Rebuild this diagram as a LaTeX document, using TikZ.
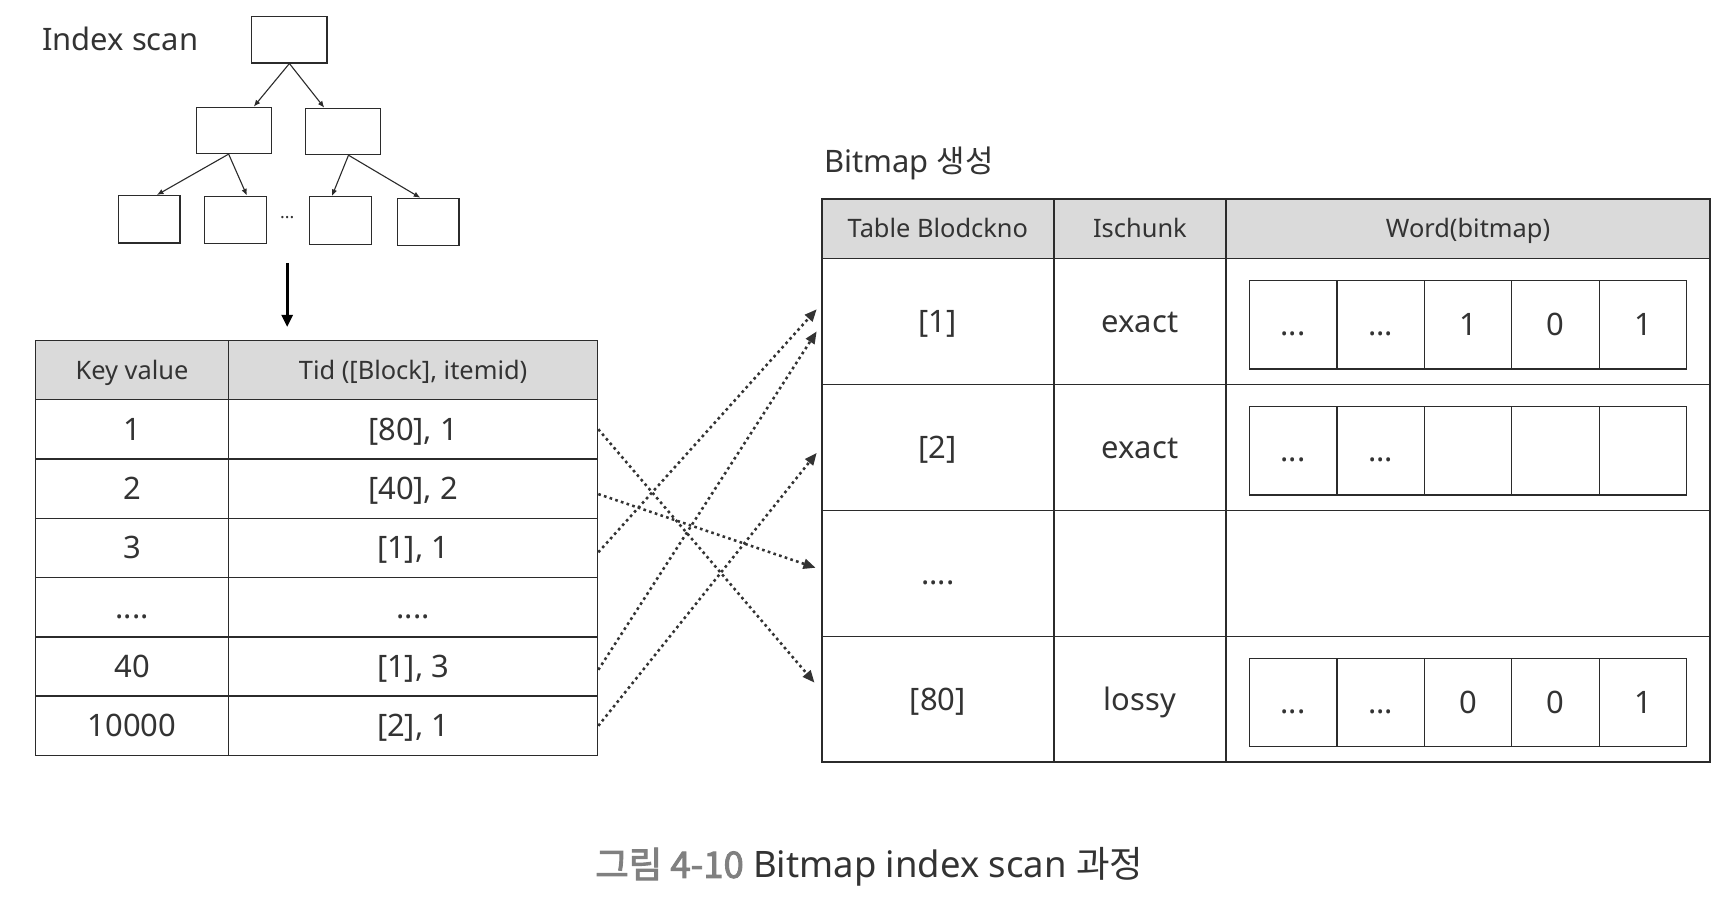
\documentclass[tikz,border=0pt]{standalone}
\usepackage{fontspec}
\setmainfont{Noto Sans}
\newfontfamily\krfont{Noto Sans CJK KR}
\newfontfamily\krbold{Noto Sans CJK KR}[FakeBold=2.5]
\usepackage{xcolor}
\usepackage{tikz}
\usetikzlibrary{arrows.meta,calc}
\definecolor{ink}{HTML}{333333}
\definecolor{rule}{HTML}{2B2B2B}
\definecolor{headfill}{HTML}{DADADA}
\definecolor{capgray}{HTML}{808080}
\definecolor{dotline}{HTML}{333333}
\tikzstyle{treebox}=[rectangle,draw=rule,line width=1pt,minimum width=68pt,minimum height=42pt,inner sep=0pt]
\tikzstyle{leafbox}=[rectangle,draw=rule,line width=1pt,minimum width=56pt,minimum height=43pt,inner sep=0pt]
\tikzstyle{title}=[inner sep=0pt,text=ink,font=\fontsize{28}{32}\selectfont]
\tikzstyle{cell}=[rectangle,draw=rule,line width=1.3pt,inner sep=0pt,text=ink,text height=20pt,text depth=0pt,font=\fontsize{28}{32}\selectfont]
\tikzstyle{head}=[cell,fill=headfill,text height=16.5pt,font=\fontsize{23}{27}\selectfont]
\tikzstyle{keycol}=[minimum width=175pt,minimum height=53.7pt]
\tikzstyle{tidcol}=[minimum width=334pt,minimum height=53.7pt]
\tikzstyle{blkcol}=[minimum width=210pt,minimum height=114pt]
\tikzstyle{chunkcol}=[minimum width=156pt,minimum height=114pt]
\tikzstyle{wordcol}=[minimum width=438pt,minimum height=114pt]
\tikzstyle{bit}=[cell,minimum width=79.2pt,minimum height=80pt]
\tikzstyle{treearrow}=[draw=rule,line width=1pt,-{Latex[length=6pt,width=5pt]}]
\tikzstyle{scanarrow}=[draw=black,line width=2.5pt,-{Triangle[length=11pt,width=10pt]}]
\tikzstyle{link}=[draw=dotline,line width=2.3pt,dash pattern=on 2.4pt off 3pt,-{Triangle[length=11pt,width=9pt]}]
\begin{document}
\begin{tikzpicture}[x=1pt,y=-1pt]
  \useasboundingbox (0,0) rectangle (1568,831);
  % index tree
  \node at (38,35) [title,anchor=west] (IndexScan) {Index scan};
  \node at (262,36) [treebox] (Root) {};
  \node at (212,118) [treebox] (MidL) {};
  \node at (310.5,119) [treebox] (MidR) {};
  \node at (135,198.5) [leafbox] (LeafA) {};
  \node at (213.5,199) [leafbox] (LeafB) {};
  \node at (308.5,199.5) [leafbox] (LeafC) {};
  \node at (387.5,201) [leafbox] (LeafD) {};
  \node at (260,197) [inner sep=0pt,text=ink,font=\fontsize{16}{18}\selectfont] (LeafDots) {...};
  \draw [treearrow] (Root.south) to (MidL);
  \draw [treearrow] (Root.south) to (MidR);
  \draw [treearrow] ($(MidL.south)+(-5,0)$) to ($(LeafA.north)+(7,0)$);
  \draw [treearrow] ($(MidL.south)+(-5,0)$) to ($(LeafB.north)+(10,0)$);
  \draw [treearrow] ($(MidR.south)+(5,0)$) to ($(LeafC.north)+(-8,0)$);
  \draw [treearrow] ($(MidR.south)+(5,0)$) to ($(LeafD.north)+(-7,0)$);
  \coordinate (ScanFrom) at (260,238);
  \coordinate (ScanTo) at (260,296);
  \draw [scanarrow] (ScanFrom) to (ScanTo);
  % index table
  \node at (119.5,334.9) [head,keycol] (KeyHead) {Key value};
  \node at (374,334.9) [head,tidcol] (TidHead) {Tid ([Block], itemid)};
  \node at (119.5,388.6) [cell,keycol] (Key1) {1};
  \node at (374,388.6) [cell,tidcol] (Tid1) {[80], 1};
  \node at (119.5,442.3) [cell,keycol] (Key2) {2};
  \node at (374,442.3) [cell,tidcol] (Tid2) {[40], 2};
  \node at (119.5,496.0) [cell,keycol] (Key3) {3};
  \node at (374,496.0) [cell,tidcol] (Tid3) {[1], 1};
  \node at (119.5,549.7) [cell,keycol] (KeyDots) {....};
  \node at (374,549.7) [cell,tidcol] (TidDots) {....};
  \node at (119.5,603.4) [cell,keycol] (Key40) {40};
  \node at (374,603.4) [cell,tidcol] (Tid40) {[1], 3};
  \node at (119.5,657.1) [cell,keycol] (Key10000) {10000};
  \node at (374,657.1) [cell,tidcol] (Tid10000) {[2], 1};
  % bitmap table
  \node at (746,148) [title,anchor=west] (BitmapTitle) {Bitmap {\krfont 생성}};
  \node at (849,207) [head,blkcol,minimum height=54pt] (BlkHead) {Table Blodckno};
  \node at (1032,207) [head,chunkcol,minimum height=54pt] (ChunkHead) {Ischunk};
  \node at (1329,207) [head,wordcol,minimum height=54pt] (WordHead) {Word(bitmap)};
  \node at (849,291) [cell,blkcol] (Blk1) {[1]};
  \node at (1032,291) [cell,chunkcol] (Chunk1) {exact};
  \node at (1329,291) [cell,wordcol] (Word1) {};
  \node at (849,405) [cell,blkcol] (Blk2) {[2]};
  \node at (1032,405) [cell,chunkcol] (Chunk2) {exact};
  \node at (1329,405) [cell,wordcol] (Word2) {};
  \node at (849,519) [cell,blkcol] (BlkDots) {....};
  \node at (1032,519) [cell,chunkcol] (ChunkDots) {};
  \node at (1329,519) [cell,wordcol] (WordDots) {};
  \node at (849,633) [cell,blkcol] (Blk80) {[80]};
  \node at (1032,633) [cell,chunkcol] (Chunk80) {lossy};
  \node at (1329,633) [cell,wordcol] (Word80) {};
  % bitmap words
  \node at (1170.6,294) [bit] (BitA1) {...};
  \node at (1249.8,294) [bit] (BitA2) {...};
  \node at (1329.0,294) [bit] (BitA3) {1};
  \node at (1408.2,294) [bit] (BitA4) {0};
  \node at (1487.4,294) [bit] (BitA5) {1};
  \node at (1170.6,408) [bit] (BitB1) {...};
  \node at (1249.8,408) [bit] (BitB2) {...};
  \node at (1329.0,408) [bit] (BitB3) {};
  \node at (1408.2,408) [bit] (BitB4) {};
  \node at (1487.4,408) [bit] (BitB5) {};
  \node at (1170.6,636) [bit] (BitC1) {...};
  \node at (1249.8,636) [bit] (BitC2) {...};
  \node at (1329.0,636) [bit] (BitC3) {0};
  \node at (1408.2,636) [bit] (BitC4) {0};
  \node at (1487.4,636) [bit] (BitC5) {1};
  % tid -> block
  \draw [link] (Tid1.east) to ($(Blk80.west)+(-6,-15)$);
  \draw [link] ($(Tid2.east)+(0,5)$) to ($(BlkDots.west)+(-5,-5)$);
  \draw [link] ($(Tid3.east)+(0,4)$) to ($(Blk1.west)+(-4,-11)$);
  \draw [link] ($(Tid40.east)+(0,3)$) to ($(Blk1.west)+(-4,9)$);
  \draw [link] (Tid10000.east) to ($(Blk2.west)+(-4,5)$);
  % caption
  \node at (787,785) [inner sep=0pt,text=ink,font=\fontsize{33}{38}\selectfont] (Caption) {{\color{capgray}\krbold 그림 4-10} Bitmap index scan {\krfont 과정}};
\end{tikzpicture}
\end{document}
